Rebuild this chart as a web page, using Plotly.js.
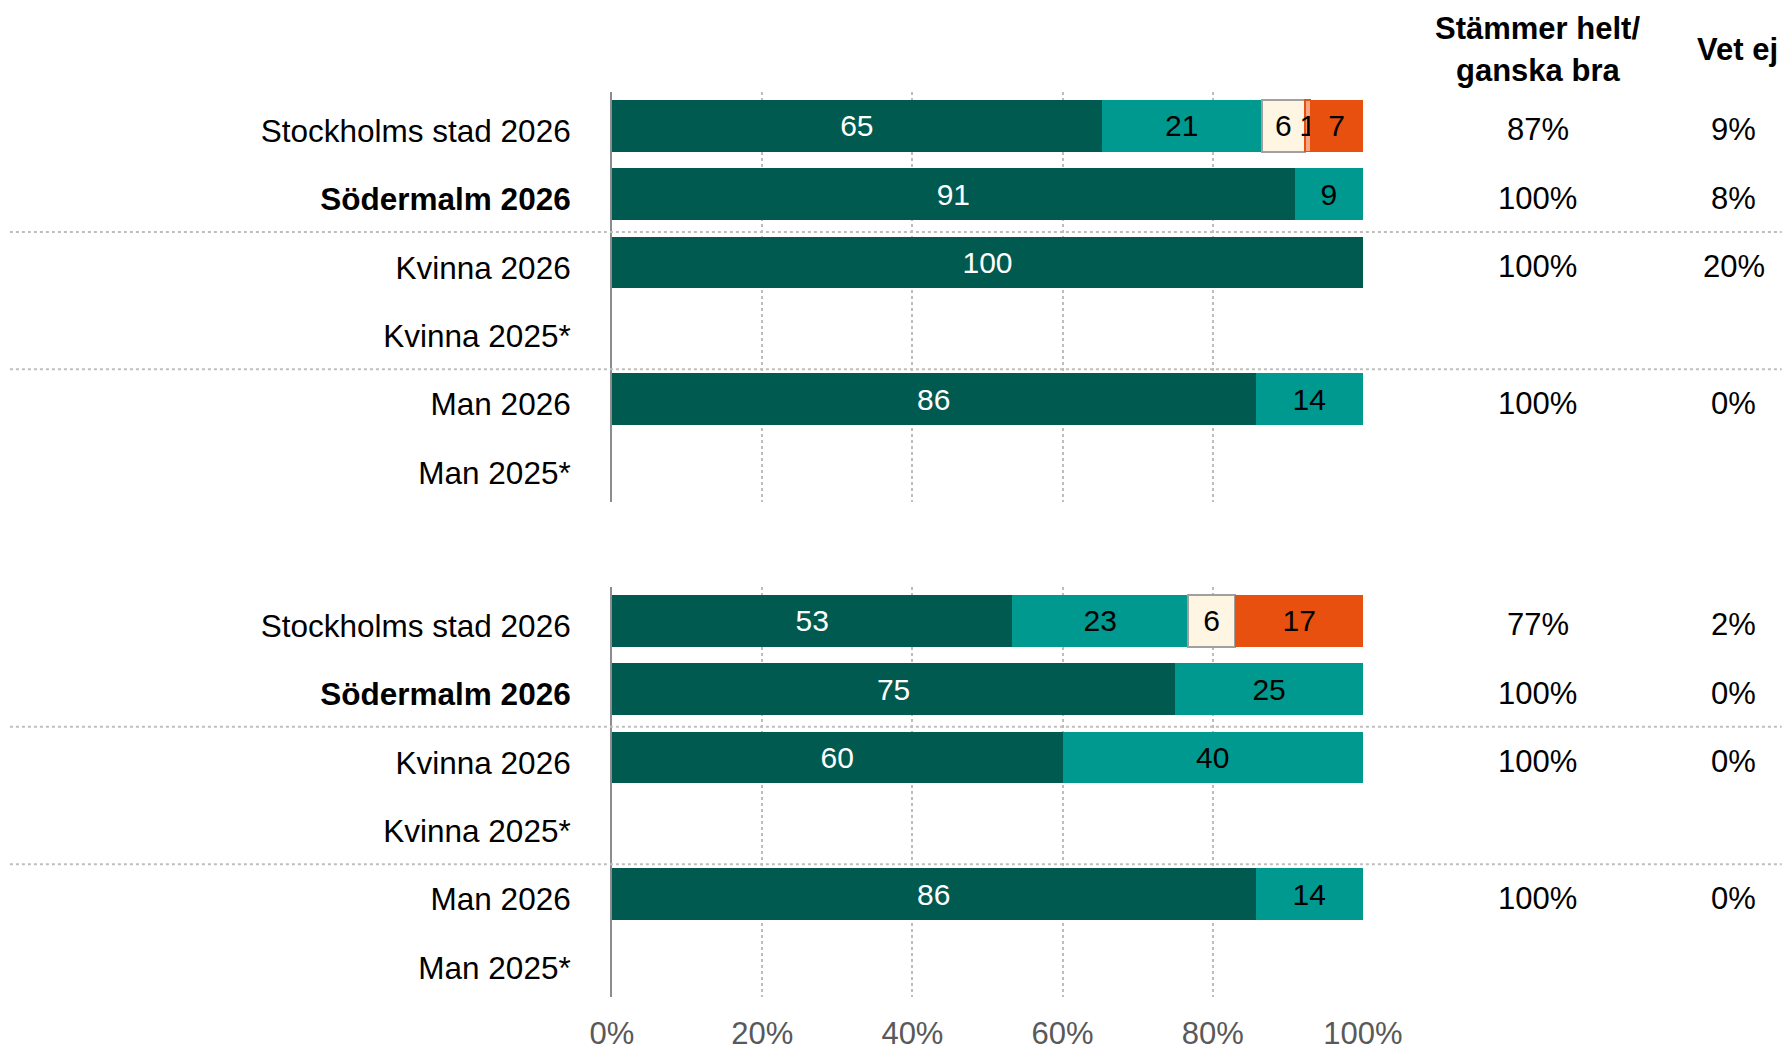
<!DOCTYPE html>
<html>
<head>
<meta charset="utf-8">
<script src="https://cdn.plot.ly/plotly-3.0.1.min.js"></script>
<style>html,body{margin:0;padding:0;background:#fff;}#chart{width:1782px;height:1052px;}</style>
</head>
<body>
<div id="chart"></div>
<script>
// ---- Data ----
const categories = ['Stockholms stad 2026', '<b>Södermalm 2026</b>', 'Kvinna 2026', 'Kvinna 2025*', 'Man 2026', 'Man 2025*'];
const seriesNames = ['Stämmer helt', 'Stämmer ganska bra', 'Varken eller', 'Stämmer ganska dåligt', 'Stämmer inte alls'];

// Panel 1 (top)
const helt1    = [65.2, 90.9, 100, null, 85.7, null];
const ganska1  = [21.3, 9.1, null, null, 14.3, null];
const varken1  = [5.8, null, null, null, null, null];
const daligt1  = [0.7, null, null, null, null, null];
const inte1    = [7.0, null, null, null, null, null];
const agree1   = [87, 100, 100, null, 100, null];
const vetej1   = [9, 8, 20, null, 0, null];

// Panel 2 (bottom)
const helt2    = [53.3, 75, 60, null, 85.7, null];
const ganska2  = [23.4, 25, 40, null, 14.3, null];
const varken2  = [6.3, null, null, null, null, null];
const daligt2  = [null, null, null, null, null, null];
const inte2    = [17.0, null, null, null, null, null];
const agree2   = [77, 100, 100, null, 100, null];
const vetej2   = [2, 0, 0, null, 0, null];

const xTicks = [0, 20, 40, 60, 80, 100];
const xTickText = ['0%', '20%', '40%', '60%', '80%', '100%'];
const headerAgree = ['Stämmer helt/', 'ganska bra'];
const headerVetej = 'Vet ej';

// ---- Styles ----
const FONT = '"Liberation Sans", Arial, sans-serif';
const colors = ['#005A4F', '#00998F', '#FFF5E3', '#F5A784', '#E8500F'];
const lineColors = ['#005A4F', '#00998F', '#A0A0A0', '#E8500F', '#E8500F'];
const lineWidths = [0, 0, 2, 1.5, 0];
const textColors = ['#ffffff', '#000000', '#000000', '#000000', '#000000'];

function makeTraces(seriesList, yax) {
  return seriesList.map((vals, k) => ({
    type: 'bar',
    orientation: 'h',
    name: seriesNames[k],
    x: vals,
    y: categories,
    yaxis: yax,
    xaxis: 'x',
    marker: {color: colors[k], line: {color: lineColors[k], width: lineWidths[k]}},
    text: vals.map(v => (v === null || v === 0) ? '' : String(Math.round(v))),
    textposition: 'inside',
    insidetextanchor: 'middle',
    textangle: 0,
    constraintext: 'none',
    insidetextfont: {family: FONT, size: 30, color: textColors[k]},
    hoverinfo: 'skip',
    showlegend: false
  }));
}

const traces = [
  ...makeTraces([helt1, ganska1, varken1, daligt1, inte1], 'y'),
  ...makeTraces([helt2, ganska2, varken2, daligt2, inte2], 'y2')
];

// ---- Layout geometry ----
const W = 1782, H = 1052;
const mL = 611.5, mR = 419, mT = 0, mB = 55;
const plotW = W - mL - mR;
const plotH = H - mT - mB;
const px2paperX = p => (p - mL) / plotW;
const px2paperY = p => (plotH - (p - mT)) / plotH;

const yCommon = {
  type: 'category',
  range: [5.5, -0.5],
  showline: true,
  linecolor: '#8C8C8C',
  linewidth: 2,
  showgrid: false,
  zeroline: false,
  ticks: '',
  ticklabelstandoff: 33,
  ticklabelshift: -5,
  tickfont: {family: FONT, size: 31.5, color: '#000000'},
  fixedrange: true,
  anchor: 'x'
};

const annotations = [];
function colAnn(vals, yref, xp) {
  vals.forEach((v, i) => {
    if (v === null) return;
    annotations.push({
      xref: 'paper', yref: yref, x: xp, y: i,
      text: v + '%', showarrow: false, xanchor: 'center', yanchor: 'middle',
      yshift: -4,
      font: {family: FONT, size: 31, color: '#000000'}
    });
  });
}
colAnn(agree1, 'y', px2paperX(1538));
colAnn(vetej1, 'y', px2paperX(1734));
colAnn(agree2, 'y2', px2paperX(1538));
colAnn(vetej2, 'y2', px2paperX(1734));

annotations.push({xref: 'paper', yref: 'paper', x: px2paperX(1538), y: px2paperY(29), text: '<b>' + headerAgree[0] + '</b>',
  showarrow: false, xanchor: 'center', yanchor: 'middle', font: {family: FONT, size: 31, color: '#000'}});
annotations.push({xref: 'paper', yref: 'paper', x: px2paperX(1538), y: px2paperY(70), text: '<b>' + headerAgree[1] + '</b>',
  showarrow: false, xanchor: 'center', yanchor: 'middle', font: {family: FONT, size: 31, color: '#000'}});
annotations.push({xref: 'paper', yref: 'paper', x: px2paperX(1738), y: px2paperY(49), text: '<b>' + headerVetej + '</b>',
  showarrow: false, xanchor: 'center', yanchor: 'middle', font: {family: FONT, size: 31, color: '#000'}});

const shapes = [];
[['y', 1.555], ['y', 3.56], ['y2', 1.55], ['y2', 3.56]].forEach(([yr, yv]) => {
  shapes.push({type: 'line', xref: 'paper', yref: yr, x0: px2paperX(9), x1: px2paperX(W), y0: yv, y1: yv,
    line: {color: '#BEBEBE', width: 2, dash: 'dot'}, layer: 'above'});
});

const layout = {
  width: W, height: H,
  margin: {l: mL, r: mR, t: mT, b: mB, pad: 0},
  paper_bgcolor: '#ffffff',
  plot_bgcolor: 'rgba(0,0,0,0)',
  barmode: 'stack',
  bargap: 0.243,
  showlegend: false,
  font: {family: FONT, color: '#000'},
  xaxis: {
    range: [0, 100],
    anchor: 'y2',
    tickvals: xTicks,
    ticktext: xTickText,
    showgrid: true,
    griddash: 'dot',
    gridcolor: '#BDBDBD',
    gridwidth: 2,
    zeroline: false,
    showline: false,
    ticks: '',
    ticklabelstandoff: 15,
    tickfont: {family: FONT, size: 31, color: '#595959'},
    fixedrange: true
  },
  yaxis: Object.assign({}, yCommon, {domain: [px2paperY(501.7), px2paperY(91.7)]}),
  yaxis2: Object.assign({}, yCommon, {domain: [Math.max(0, px2paperY(996.7)), px2paperY(586.7)]}),
  annotations: annotations,
  shapes: shapes
};

Plotly.newPlot('chart', traces, layout, {displayModeBar: false, staticPlot: true});
</script>
</body>
</html>
